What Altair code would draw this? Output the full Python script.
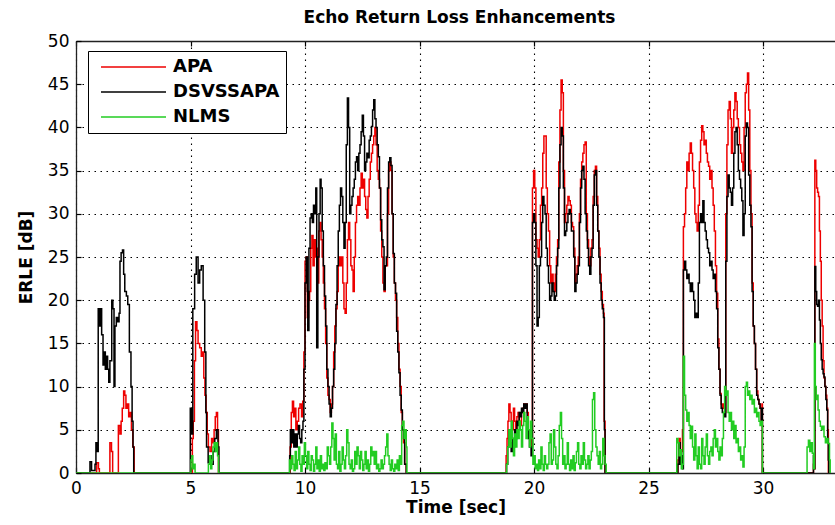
import altair as alt
import pandas as pd

# ---------------- data ----------------
series_names = ["APA", "DSVSSAPA", "NLMS"]
series_colors = ["#ee0000", "#000000", "#22cc22"]

x_ticks = [0, 5, 10, 15, 20, 25, 30]
y_ticks = [0, 5, 10, 15, 20, 25, 30, 35, 40, 45, 50]

# (time [sec], ERLE [dB])
apa = [
    (0.0, 0), (0.88, 0), (0.9, 1.2), (0.98, 0.5), (1.02, 0), (1.45, 0), (1.48, 3.5), (1.55, 2.5), (1.6, 0),
    (1.82, 0), (1.85, 5.5), (1.92, 4.5), (1.97, 6), (2.02, 7.5), (2.08, 9.5), (2.13, 9), (2.18, 7.5),
    (2.24, 8), (2.3, 6.5), (2.36, 7), (2.42, 5), (2.48, 3), (2.54, 0),
    (5.05, 0), (5.08, 4), (5.12, 6), (5.17, 13), (5.22, 17.5), (5.28, 16.5), (5.33, 15), (5.4, 14.5),
    (5.47, 13.5), (5.53, 14), (5.58, 11), (5.63, 9), (5.68, 7), (5.73, 4.5), (5.78, 3), (5.85, 2.5),
    (5.92, 4), (5.98, 3.5), (6.03, 5), (6.08, 6.5), (6.13, 7), (6.18, 5), (6.22, 0),
    (9.32, 0), (9.35, 3), (9.4, 7), (9.45, 8.3), (9.5, 6.5), (9.55, 7.5), (9.6, 5), (9.66, 6), (9.72, 7.5),
    (9.78, 8), (9.85, 6.5), (9.9, 8.3), (9.95, 14), (10.0, 24.5), (10.05, 25), (10.1, 18), (10.15, 20),
    (10.2, 21), (10.25, 26), (10.3, 27.5), (10.35, 24), (10.4, 27), (10.45, 25), (10.5, 26), (10.55, 22),
    (10.6, 28), (10.65, 29), (10.7, 27), (10.75, 25), (10.8, 22), (10.85, 19), (10.9, 15), (10.95, 11),
    (11.0, 9), (11.05, 8.5), (11.1, 7), (11.15, 8), (11.2, 10), (11.25, 14), (11.3, 17), (11.35, 19),
    (11.4, 21), (11.45, 24), (11.5, 25), (11.55, 24), (11.6, 25), (11.65, 22), (11.7, 19), (11.75, 18.5),
    (11.8, 22), (11.85, 27), (11.9, 29), (11.95, 27), (12.0, 24), (12.05, 23.5), (12.1, 21), (12.15, 25),
    (12.2, 29), (12.25, 31), (12.3, 32), (12.35, 31), (12.4, 33), (12.45, 34.7), (12.5, 33), (12.55, 34),
    (12.6, 32), (12.65, 30.5), (12.7, 29.5), (12.75, 32), (12.8, 34), (12.85, 36), (12.9, 37), (12.95, 38),
    (13.0, 39), (13.05, 40), (13.1, 38), (13.15, 35), (13.2, 34), (13.25, 33), (13.3, 28), (13.35, 25),
    (13.4, 22), (13.45, 21), (13.5, 24), (13.55, 24), (13.6, 30), (13.65, 35), (13.7, 36), (13.75, 35),
    (13.8, 30), (13.85, 25), (13.9, 22), (13.95, 20), (14.0, 18), (14.05, 15), (14.1, 12), (14.15, 10),
    (14.2, 7), (14.25, 5), (14.3, 3.5), (14.35, 1), (14.42, 0),
    (18.75, 0), (18.78, 2), (18.82, 4), (18.86, 6), (18.9, 8), (18.95, 7), (19.0, 6), (19.05, 5), (19.1, 7.5),
    (19.15, 6), (19.2, 5), (19.25, 6.5), (19.3, 7), (19.35, 6), (19.4, 5.5), (19.45, 7), (19.5, 7.5),
    (19.55, 8), (19.6, 7.5), (19.65, 8), (19.7, 7), (19.75, 5), (19.8, 4.5), (19.87, 3), (19.93, 33),
    (19.98, 35), (20.03, 33), (20.08, 27), (20.13, 26), (20.18, 25), (20.23, 27), (20.28, 31), (20.33, 33),
    (20.38, 37), (20.43, 39), (20.48, 39), (20.53, 33), (20.58, 30), (20.63, 28), (20.68, 24), (20.73, 22),
    (20.78, 23), (20.83, 22), (20.88, 21), (20.93, 23), (20.98, 25), (21.03, 27), (21.08, 36), (21.13, 42),
    (21.18, 45.5), (21.23, 44), (21.28, 35), (21.33, 29), (21.38, 30), (21.43, 31), (21.48, 32),
    (21.53, 31.5), (21.58, 31), (21.63, 29), (21.68, 28.5), (21.73, 26), (21.78, 22), (21.83, 23),
    (21.88, 24), (21.93, 25), (21.98, 30), (22.03, 34), (22.08, 36), (22.13, 37), (22.18, 38), (22.23, 38.3),
    (22.28, 30), (22.33, 27), (22.38, 25), (22.43, 24), (22.48, 26), (22.53, 27), (22.58, 32), (22.63, 35),
    (22.68, 35.5), (22.73, 32), (22.78, 28), (22.83, 26), (22.88, 23), (22.93, 21), (22.98, 19.5),
    (23.03, 18.5), (23.06, 6), (23.1, 0),
    (26.25, 0), (26.28, 1.5), (26.33, 4), (26.38, 1.5), (26.43, 2.5), (26.48, 5), (26.52, 28.5), (26.57, 30),
    (26.62, 33), (26.67, 36), (26.72, 35), (26.77, 37), (26.82, 38.2), (26.87, 37), (26.92, 35), (26.97, 33),
    (27.02, 30), (27.07, 29), (27.12, 28), (27.17, 31), (27.22, 36), (27.27, 38.5), (27.32, 40.2),
    (27.37, 39.5), (27.42, 38), (27.47, 38.5), (27.52, 37), (27.57, 36), (27.62, 35.5), (27.67, 34),
    (27.72, 35), (27.77, 33), (27.82, 31), (27.87, 28), (27.92, 24), (27.97, 20.8), (28.02, 15.5),
    (28.07, 12), (28.12, 9.2), (28.17, 8), (28.22, 7.5), (28.27, 8), (28.32, 7), (28.37, 30), (28.42, 38),
    (28.47, 42), (28.52, 43), (28.57, 41), (28.62, 37), (28.67, 40), (28.72, 42), (28.77, 44), (28.82, 43),
    (28.87, 41), (28.92, 40), (28.97, 38), (29.02, 37), (29.07, 36), (29.12, 35), (29.17, 40), (29.22, 44),
    (29.27, 45), (29.32, 46.3), (29.37, 42), (29.42, 35), (29.47, 30), (29.52, 22), (29.57, 17), (29.62, 15),
    (29.67, 12), (29.72, 9.5), (29.77, 8.5), (29.82, 8), (29.87, 7.5), (29.92, 6), (29.95, 8), (29.97, 0),
    (32.18, 0), (32.2, 1), (32.23, 0.5), (32.26, 36.2), (32.3, 35), (32.34, 33), (32.38, 32.5), (32.42, 32),
    (32.46, 28), (32.5, 24.5), (32.54, 20), (32.58, 17), (32.62, 13), (32.66, 11), (32.7, 10), (32.74, 9),
    (32.78, 7.5), (32.82, 5), (32.85, 0),
]

dsvssapa = [
    (0.0, 0), (0.6, 0), (0.61, 1.3), (0.68, 0.3), (0.83, 1), (0.87, 3.5), (0.93, 2.5), (0.97, 19), (1.02, 17),
    (1.08, 19), (1.12, 16), (1.18, 12.5), (1.23, 14), (1.28, 12), (1.33, 13.5), (1.38, 12), (1.43, 10.5),
    (1.48, 13), (1.56, 20), (1.61, 19), (1.66, 10), (1.7, 17), (1.76, 18), (1.82, 17.5), (1.88, 18.5),
    (1.92, 24.5), (1.97, 25.5), (2.03, 25.8), (2.08, 23), (2.13, 21), (2.2, 20.5), (2.26, 19.5), (2.33, 14),
    (2.4, 10), (2.45, 6), (2.49, 3), (2.52, 0),
    (4.98, 0), (4.99, 7.5), (5.04, 4.5), (5.1, 19), (5.18, 23), (5.25, 25), (5.33, 22), (5.4, 23.5),
    (5.47, 24), (5.55, 20), (5.62, 14), (5.67, 7), (5.7, 3), (5.77, 1.2), (5.83, 2), (5.9, 1), (5.99, 2.5),
    (6.06, 4), (6.13, 5), (6.2, 3), (6.24, 0),
    (9.3, 0), (9.33, 2), (9.36, 5), (9.41, 3.5), (9.46, 5), (9.51, 3), (9.56, 4.5), (9.61, 3), (9.66, 4.5),
    (9.71, 5.5), (9.76, 4), (9.81, 3.5), (9.86, 5), (9.91, 6), (9.95, 12), (10.0, 22), (10.05, 25),
    (10.1, 21), (10.12, 16.5), (10.17, 26), (10.22, 29.5), (10.27, 30), (10.32, 29), (10.37, 31), (10.42, 30),
    (10.47, 33), (10.51, 14.5), (10.56, 25), (10.61, 30), (10.66, 34), (10.7, 33), (10.75, 28), (10.8, 24),
    (10.85, 20.5), (10.9, 17), (10.95, 12), (11.0, 10), (11.05, 8), (11.1, 6.5), (11.15, 7.5), (11.2, 10),
    (11.25, 12), (11.3, 15), (11.35, 19.5), (11.4, 24), (11.45, 28), (11.5, 31), (11.55, 33), (11.6, 32),
    (11.65, 29), (11.7, 26), (11.75, 29), (11.8, 38), (11.85, 43.4), (11.9, 40), (11.95, 30), (12.0, 31),
    (12.05, 32), (12.1, 33), (12.15, 34), (12.2, 36), (12.25, 36.6), (12.3, 35), (12.35, 37), (12.4, 38),
    (12.45, 39.5), (12.5, 41.4), (12.55, 39), (12.6, 35), (12.65, 36), (12.7, 37), (12.75, 36.5), (12.8, 38.5),
    (12.85, 39), (12.9, 40.1), (12.95, 42), (13.0, 43.2), (13.05, 41), (13.1, 40), (13.15, 38), (13.2, 36.6),
    (13.25, 33), (13.3, 29.3), (13.35, 27), (13.4, 26.2), (13.45, 21.2), (13.5, 24), (13.55, 25), (13.6, 33),
    (13.65, 36), (13.7, 36.5), (13.75, 35.6), (13.8, 30), (13.85, 25.4), (13.9, 22), (13.95, 20.8),
    (14.0, 16.4), (14.05, 14), (14.1, 11.6), (14.15, 9), (14.2, 7.3), (14.25, 5), (14.3, 4), (14.35, 1),
    (14.42, 0),
    (18.75, 0), (18.8, 1), (18.85, 3), (18.9, 5), (18.95, 3.5), (19.0, 2.5), (19.05, 4), (19.1, 3), (19.15, 5),
    (19.2, 4), (19.25, 6), (19.3, 5.5), (19.35, 7), (19.4, 6.5), (19.45, 7.5), (19.5, 7), (19.55, 8),
    (19.6, 7.5), (19.65, 8), (19.7, 6), (19.75, 4), (19.8, 3), (19.87, 2), (19.93, 29), (19.98, 30),
    (20.03, 29), (20.08, 24), (20.13, 17), (20.18, 18), (20.23, 24), (20.28, 25), (20.33, 29), (20.38, 32),
    (20.43, 31), (20.48, 30), (20.53, 26), (20.58, 24), (20.63, 22), (20.68, 20), (20.73, 20.5), (20.78, 22),
    (20.83, 21), (20.88, 20), (20.93, 20.5), (20.98, 24), (21.03, 26), (21.08, 33), (21.13, 38), (21.18, 40),
    (21.23, 39), (21.28, 33), (21.33, 27.5), (21.38, 28), (21.43, 29), (21.48, 30), (21.53, 30.5), (21.58, 30),
    (21.63, 28), (21.68, 28), (21.73, 25), (21.78, 21), (21.83, 22), (21.88, 23), (21.93, 24), (21.98, 29),
    (22.03, 33), (22.08, 35), (22.13, 35.5), (22.18, 34), (22.23, 30), (22.28, 28), (22.33, 26), (22.38, 24),
    (22.43, 23), (22.48, 25), (22.53, 26), (22.58, 31), (22.63, 34.5), (22.68, 35), (22.73, 31), (22.78, 28),
    (22.83, 25), (22.88, 22), (22.93, 20), (22.98, 19), (23.03, 18), (23.07, 5), (23.1, 0),
    (26.25, 0), (26.28, 1), (26.33, 3.5), (26.38, 1), (26.43, 2), (26.48, 0.5), (26.52, 23.5), (26.57, 24.5),
    (26.62, 23.5), (26.67, 22.5), (26.72, 23), (26.77, 22), (26.82, 21), (26.87, 22), (26.92, 21), (26.97, 20),
    (27.02, 18), (27.07, 18.5), (27.12, 18), (27.17, 22), (27.22, 29), (27.27, 30), (27.32, 29), (27.37, 31.5),
    (27.42, 29), (27.47, 28), (27.52, 27), (27.57, 26), (27.62, 25.5), (27.67, 24), (27.72, 24.5),
    (27.77, 23.5), (27.82, 22.5), (27.87, 23), (27.92, 21), (27.97, 19), (28.02, 14.5), (28.07, 12),
    (28.12, 9), (28.17, 7.5), (28.22, 7), (28.27, 7), (28.32, 6.5), (28.37, 24.5), (28.42, 32), (28.47, 34.5),
    (28.52, 33), (28.57, 32.5), (28.62, 31), (28.67, 33), (28.72, 37), (28.77, 39.5), (28.82, 40), (28.87, 38),
    (28.92, 35), (28.97, 34), (29.02, 33), (29.07, 31.5), (29.12, 27.5), (29.17, 30), (29.22, 39),
    (29.27, 40.5), (29.32, 40), (29.37, 34.5), (29.42, 31), (29.47, 28.5), (29.52, 21), (29.57, 17),
    (29.62, 15), (29.67, 12), (29.72, 9), (29.77, 8.5), (29.82, 8), (29.87, 7.5), (29.92, 6), (29.95, 7.5),
    (29.97, 0),
    (32.18, 0), (32.2, 2), (32.23, 0.5), (32.26, 23.9), (32.3, 21), (32.34, 19.5), (32.38, 19.3), (32.42, 20),
    (32.46, 17.7), (32.5, 15), (32.54, 13.1), (32.58, 12), (32.62, 11.5), (32.66, 11.1), (32.7, 10),
    (32.74, 8.5), (32.78, 7.3), (32.82, 4), (32.85, 1.5), (32.87, 0),
]

nlms = [
    (0.0, 0), (5.0, 0), (5.02, 1.5), (5.06, 2), (5.1, 0.5), (5.15, 1), (5.2, 0), (5.75, 0), (5.78, 1),
    (5.83, 2), (5.88, 0.5), (5.93, 1.5), (5.98, 3), (6.03, 3.5), (6.08, 2.5), (6.13, 3.5), (6.18, 2),
    (6.22, 0),
    (9.3, 0), (9.32, 1.5), (9.37, 0.5), (9.42, 2), (9.47, 1), (9.52, 0.3), (9.57, 2.5), (9.62, 0.5),
    (9.67, 1.5), (9.72, 3), (9.77, 1), (9.82, 0.2), (9.87, 2), (9.92, 1), (9.97, 3.5), (10.02, 2),
    (10.07, 0.5), (10.12, 2.5), (10.17, 1), (10.22, 0.3), (10.27, 2), (10.32, 1.5), (10.37, 0.2), (10.42, 1),
    (10.47, 3), (10.52, 0.5), (10.57, 1.5), (10.62, 0.2), (10.67, 2), (10.72, 0.5), (10.77, 1), (10.82, 0.3),
    (10.87, 1.2), (10.92, 0.5), (10.97, 3), (11.02, 2), (11.07, 1), (11.12, 3), (11.17, 5.8), (11.22, 4),
    (11.27, 1.5), (11.32, 4.5), (11.37, 1), (11.42, 0.5), (11.47, 2.5), (11.52, 0.2), (11.57, 1), (11.62, 3),
    (11.67, 1.5), (11.72, 0.5), (11.77, 2), (11.82, 5), (11.87, 3.5), (11.92, 1), (11.97, 0.5), (12.02, 1.5),
    (12.07, 0.2), (12.12, 0.5), (12.17, 2.5), (12.22, 1), (12.27, 3), (12.32, 2), (12.37, 0.5), (12.42, 2.5),
    (12.47, 1.5), (12.52, 0.3), (12.57, 1), (12.62, 2.5), (12.67, 0.5), (12.72, 1.5), (12.77, 0.2),
    (12.82, 1), (12.87, 3), (12.92, 2), (12.97, 2.5), (13.02, 1), (13.07, 2.5), (13.12, 0.5), (13.17, 1),
    (13.22, 0.2), (13.27, 0.5), (13.32, 1.5), (13.37, 0.5), (13.42, 1), (13.47, 2), (13.52, 3), (13.57, 4.5),
    (13.62, 2), (13.67, 1), (13.72, 0.3), (13.77, 1.5), (13.82, 0.5), (13.87, 0.2), (13.92, 1), (13.97, 0.5),
    (14.02, 1.5), (14.07, 0.3), (14.12, 2), (14.17, 1), (14.22, 5.5), (14.27, 6), (14.32, 4), (14.37, 5),
    (14.42, 3), (14.45, 0),
    (18.75, 0), (18.8, 1), (18.85, 3), (18.9, 5), (18.95, 3), (19.0, 6), (19.05, 4), (19.1, 2), (19.15, 4.5),
    (19.2, 3), (19.25, 5), (19.3, 4), (19.35, 6), (19.4, 5), (19.45, 3), (19.5, 5.5), (19.55, 7), (19.6, 6),
    (19.65, 4), (19.7, 6.5), (19.75, 5), (19.8, 3), (19.85, 6), (19.9, 4), (19.95, 1), (20.0, 2),
    (20.05, 0.5), (20.1, 1), (20.15, 0.3), (20.2, 1.5), (20.25, 0.5), (20.3, 3), (20.35, 1), (20.4, 0.3),
    (20.45, 2), (20.5, 1), (20.55, 0.5), (20.6, 1), (20.65, 3.5), (20.7, 4.5), (20.75, 1), (20.8, 1.5),
    (20.85, 5), (20.9, 3), (20.95, 1), (21.0, 0.5), (21.05, 2), (21.1, 5.5), (21.15, 7), (21.2, 4),
    (21.25, 1), (21.3, 2), (21.35, 0.5), (21.4, 1), (21.45, 3.5), (21.5, 1), (21.55, 0.3), (21.6, 1.5),
    (21.65, 0.5), (21.7, 2), (21.75, 0.3), (21.8, 1.2), (21.85, 2.5), (21.9, 3.5), (21.95, 1), (22.0, 0.5),
    (22.05, 2), (22.1, 1), (22.15, 3.5), (22.2, 1.5), (22.25, 0.5), (22.3, 1), (22.35, 2), (22.4, 0.5),
    (22.45, 1.5), (22.5, 2.5), (22.55, 8.5), (22.6, 9.3), (22.65, 5), (22.7, 3), (22.75, 2), (22.8, 1),
    (22.85, 2.5), (22.9, 0.5), (22.95, 1), (23.0, 4), (23.05, 2), (23.1, 1), (23.15, 0),
    (26.2, 0), (26.23, 4), (26.28, 3.5), (26.33, 2), (26.38, 2.7), (26.43, 0.5), (26.48, 1), (26.52, 13.5),
    (26.57, 9), (26.62, 7.3), (26.67, 6), (26.72, 7), (26.77, 5.5), (26.82, 4), (26.87, 5.4), (26.92, 3),
    (26.97, 1.5), (27.02, 4.5), (27.07, 2), (27.12, 0.5), (27.17, 3), (27.22, 1), (27.27, 0.5), (27.32, 4),
    (27.37, 2), (27.42, 1), (27.47, 3), (27.52, 4.5), (27.57, 2), (27.62, 1), (27.67, 2.5), (27.72, 3),
    (27.77, 2), (27.82, 4), (27.87, 5), (27.92, 3), (27.97, 4), (28.02, 2.5), (28.07, 1.5), (28.12, 3),
    (28.17, 2), (28.22, 4), (28.27, 7), (28.32, 10), (28.37, 9), (28.42, 9.5), (28.47, 7), (28.52, 6),
    (28.57, 7), (28.62, 5), (28.67, 6), (28.72, 4), (28.77, 5.5), (28.82, 3.5), (28.87, 4), (28.92, 2.5),
    (28.97, 3), (29.02, 1.5), (29.07, 2), (29.12, 0.7), (29.17, 3), (29.22, 10), (29.27, 10.5), (29.32, 9),
    (29.37, 9.5), (29.42, 8.5), (29.47, 9), (29.52, 8), (29.57, 8.5), (29.62, 7), (29.67, 7.5), (29.72, 6.5),
    (29.77, 7), (29.82, 6), (29.87, 5.5), (29.92, 6), (29.97, 0),
    (31.9, 0), (31.92, 3), (31.98, 3.8), (32.04, 2.5), (32.1, 3.5), (32.15, 2.3), (32.2, 0.5), (32.24, 15),
    (32.28, 10), (32.32, 8.5), (32.36, 9), (32.4, 7.3), (32.45, 6), (32.5, 5.4), (32.55, 5), (32.6, 5.4),
    (32.66, 4.2), (32.72, 3.5), (32.78, 4), (32.84, 3.4), (32.9, 1.5), (32.93, 0),
]

# ---------------- table ----------------
def frame(name, pts):
    return pd.DataFrame({"time": [p[0] for p in pts], "erle": [p[1] for p in pts], "series": name})

df = pd.concat([frame("APA", apa), frame("DSVSSAPA", dsvssapa), frame("NLMS", nlms)], ignore_index=True)

FONT = "DejaVu Sans"
W, H = 759, 432
XMAX = 33.14

xscale = alt.Scale(domain=[0, XMAX], nice=False, zero=False)
yscale = alt.Scale(domain=[0, 50], nice=False)
cscale = alt.Scale(domain=series_names, range=series_colors)

x_axis = alt.Axis(
    values=x_ticks, grid=True, gridColor="#000000", gridDash=[1.5, 4.5], gridWidth=1.1, gridOpacity=1,
    ticks=False, domain=True, domainColor="#222222", domainWidth=1.3,
    labelFont=FONT, labelFontSize=17, labelColor="#000000", labelPadding=7,
    labelFlush=False, labelOverlap=False,
    title="Time [sec]", titleFont=FONT, titleFontSize=17, titleFontWeight="bold",
    titleColor="#000000", titlePadding=3,
)
y_axis = alt.Axis(
    values=y_ticks, grid=True, gridColor="#000000", gridDash=[1.5, 4.5], gridWidth=1.1, gridOpacity=1,
    ticks=False, domain=True, domainColor="#222222", domainWidth=1.3,
    labelFont=FONT, labelFontSize=17, labelColor="#000000", labelPadding=7,
    labelFlush=False, labelOverlap=False,
    title="ERLE [dB]", titleFont=FONT, titleFontSize=17, titleFontWeight="bold",
    titleColor="#000000", titlePadding=12,
)
legend = alt.Legend(
    title=None, orient="none", legendX=12, legendY=10,
    symbolType="stroke", symbolSize=4225, symbolStrokeWidth=1.5,
    labelFont=FONT, labelFontSize=18, labelFontWeight="bold", labelColor="#000000",
    strokeColor="#000000", fillColor="#ffffff", padding=6, rowPadding=5, clipHeight=20,
    symbolOffset=6, labelOffset=6,
)


def line_layer(name):
    return (
        alt.Chart(df)
        .transform_filter(alt.datum.series == name)
        .mark_line(interpolate="step-after", strokeWidth=1.5, clip=True)
        .encode(
            x=alt.X("time:Q", scale=xscale, axis=x_axis),
            y=alt.Y("erle:Q", scale=yscale, axis=y_axis),
            color=alt.Color("series:N", scale=cscale, legend=legend),
        )
    )


lines = alt.layer(line_layer("APA"), line_layer("DSVSSAPA"), line_layer("NLMS"))

# inward ticks (MATLAB style): bottom & left edges
ticks_in_a = alt.Chart(df).mark_point(opacity=0).encode(
    x=alt.X("time:Q", scale=xscale, axis=alt.Axis(
        orient="top", offset=-H, values=x_ticks, labels=False, domain=False, grid=False,
        ticks=True, tickSize=5, tickColor="#000000", tickWidth=1.2, title=None)),
    y=alt.Y("erle:Q", scale=yscale, axis=alt.Axis(
        orient="right", offset=-W, values=y_ticks, labels=False, domain=False, grid=False,
        ticks=True, tickSize=5, tickColor="#000000", tickWidth=1.2, title=None)),
)
# top edge: box line + inward ticks
ticks_in_b = alt.Chart(df).mark_point(opacity=0).encode(
    x=alt.X("time:Q", scale=xscale, axis=alt.Axis(
        orient="bottom", offset=-H, values=x_ticks, labels=False, domain=True,
        domainColor="#222222", domainWidth=1.3, grid=False,
        ticks=True, tickSize=5, tickColor="#000000", tickWidth=1.2, title=None)),
    y=alt.Y("erle:Q", scale=yscale, axis=None),
)

chart = (
    alt.layer(lines, ticks_in_a, ticks_in_b)
    .resolve_axis(x="independent", y="independent")
    .properties(
        width=W, height=H,
        padding={"left": 76, "top": 41, "right": 0, "bottom": 52},
        autosize=alt.AutoSizeParams(type="none"),
        title=alt.Title("Echo Return Loss Enhancements", font=FONT, fontSize=17, fontWeight="bold",
                        color="#000000", anchor="middle", dx=4, offset=5),
        background="#ffffff",
    )
    .configure_view(stroke="transparent")
)

chart.save("out.html", embed_options={"renderer": "svg", "actions": False})
